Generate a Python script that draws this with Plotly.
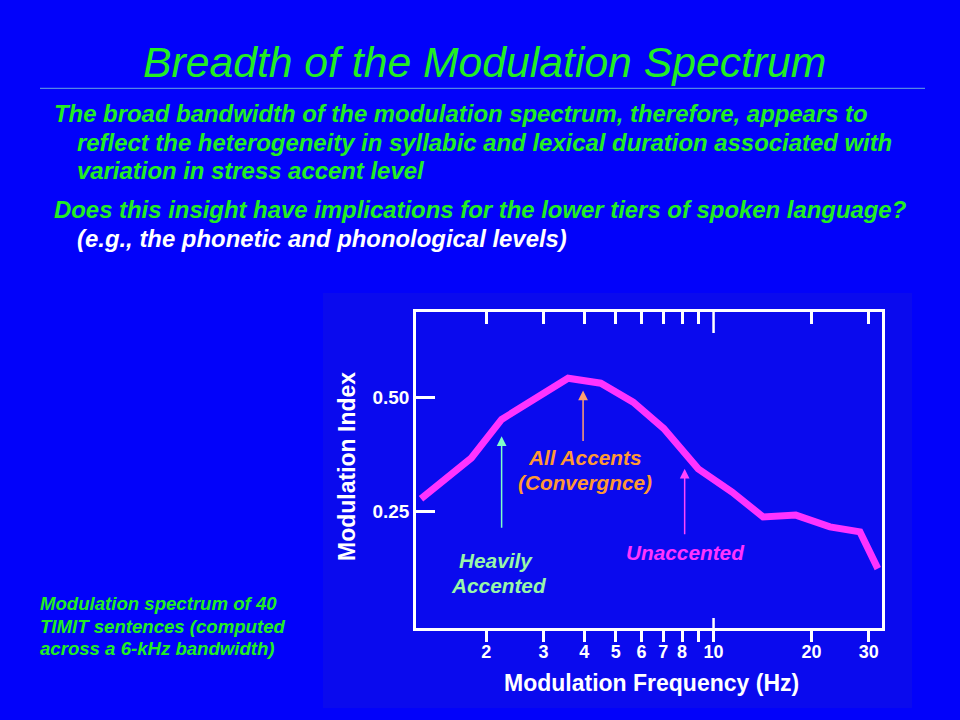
import numpy as np
import plotly.graph_objects as go

# ---------------- data ----------------
freq_hz = [1.26, 1.80, 2.23, 2.88, 3.57, 4.50, 5.66, 7.03, 8.97, 11.4, 14.2, 17.9, 22.8, 28.2, 32.0]
mod_index = [0.277, 0.367, 0.452, 0.501, 0.543, 0.532, 0.490, 0.432, 0.343, 0.292, 0.237, 0.241, 0.215, 0.204, 0.123]

x_tick_vals = [2, 3, 4, 5, 6, 7, 8, 9, 10, 20, 30]
x_tick_text = ["2", "3", "4", "5", "6", "7", "8", "", "10", "20", "30"]
y_tick_vals = [0.25, 0.50]
y_tick_text = ["0.25", "0.50"]

title_text = "Breadth of the Modulation Spectrum"
body_lines = [
    "The broad bandwidth of the modulation spectrum, therefore, appears to",
    "reflect the heterogeneity in syllabic and lexical duration associated with",
    "variation in stress accent level",
    "Does this insight have implications for the lower tiers of spoken language?",
    "(e.g., the phonetic and phonological levels)",
]
foot_lines = [
    "Modulation spectrum of 40",
    "TIMIT sentences (computed",
    "across a 6-kHz bandwidth)",
]

# label positions (data coords: Hz, index)
arrow_heavy = dict(f=2.23, y=0.415, tail=93)
arrow_all = dict(f=3.97, y=0.516, tail=52)
arrow_unacc = dict(f=8.15, y=0.343, tail=67)

# ---------------- layout geometry ----------------
W, H = 960, 720
L, R, T, B = 416, 882, 312, 628
XR = [0.085, 1.518]
YR = [-0.008, 0.689]

def px(xp):
    return (xp - L) / (R - L)

def py(yp):
    return (B - yp) / (B - T)

def lx(f):
    return (np.log10(f) - XR[0]) / (XR[1] - XR[0])

SLIDE = "#0202fa"
PANEL = "#0a0aee"
GREEN = "#22ee22"
WHITE = "#ffffff"
FONT = "Liberation Sans"

fig = go.Figure()
fig.add_trace(go.Scatter(
    x=freq_hz, y=mod_index, mode="lines",
    line=dict(color="#ff33ff", width=7),
    hoverinfo="skip", showlegend=False, cliponaxis=False,
))
# invisible trace to activate top axis
fig.add_trace(go.Scatter(
    x=freq_hz, y=mod_index, mode="lines", xaxis="x2",
    line=dict(color="rgba(0,0,0,0)", width=0),
    hoverinfo="skip", showlegend=False,
))

ann = []
# title
ann.append(dict(text=title_text, x=px(484), y=py(62), xref="paper", yref="paper",
                xanchor="center", yanchor="middle", showarrow=False,
                font=dict(family=FONT, size=42.7, color=GREEN, style="italic")))
body_pos = [(52, 113), (75, 142), (75, 170), (52, 209), (75, 238)]
for i, (t, (bx, by)) in enumerate(zip(body_lines, body_pos)):
    ann.append(dict(text=t, x=px(bx), y=py(by), xref="paper", yref="paper",
                    xanchor="left", yanchor="middle", showarrow=False,
                    font=dict(family=FONT, size=23.9, color=WHITE if i == 4 else GREEN,
                              weight="bold", style="italic")))
for t, fy in zip(foot_lines, [603, 626, 648]):
    ann.append(dict(text=t, x=px(38), y=py(fy), xref="paper", yref="paper",
                    xanchor="left", yanchor="middle", showarrow=False,
                    font=dict(family=FONT, size=18.6, color=GREEN,
                              weight="bold", style="italic")))

# axis titles
ann.append(dict(text="Modulation Frequency (Hz)", x=px(651), y=py(683), xref="paper", yref="paper",
                xanchor="center", yanchor="middle", showarrow=False,
                font=dict(family=FONT, size=23, color=WHITE, weight="bold")))
ann.append(dict(text="Modulation Index", x=px(347), y=py(467), xref="paper", yref="paper",
                xanchor="center", yanchor="middle", showarrow=False, textangle=-90,
                font=dict(family=FONT, size=23, color=WHITE, weight="bold")))

# chart labels
def lab(t, cx, cy, col):
    ann.append(dict(text=t, x=px(cx), y=py(cy), xref="paper", yref="paper",
                    xanchor="center", yanchor="middle", showarrow=False,
                    font=dict(family=FONT, size=20.8, color=col, weight="bold", style="italic")))

lab("All Accents", 585, 457, "#ff9933")
lab("(Convergnce)", 585, 482, "#ff9933")
lab("Unaccented", 685, 552, "#ff33ff")
lab("Heavily", 496, 560, "#99f7a8")
lab("Accented", 499, 585, "#99f7a8")

# arrows
for a, col in [(arrow_heavy, "#80ffc8"), (arrow_all, "#ffa070"), (arrow_unacc, "#ff44ff")]:
    ann.append(dict(text="", x=np.log10(a["f"]), y=a["y"], xref="x", yref="y",
                    showarrow=True, ax=0, ay=a["tail"], arrowhead=2, arrowsize=1.3,
                    arrowwidth=1.5, arrowcolor=col, standoff=0))

shapes = [
    dict(type="rect", xref="paper", yref="paper", x0=px(323), x1=px(912), y0=py(293), y1=py(708),
         fillcolor=PANEL, line=dict(width=0), layer="below"),
    dict(type="line", xref="paper", yref="paper", x0=px(40), x1=px(925), y0=py(88.3), y1=py(88.3),
         line=dict(color="#6aa8e0", width=1)),
    # long decade ticks at 10 Hz
    dict(type="line", xref="paper", yref="paper", x0=lx(10), x1=lx(10), y0=py(638.5), y1=py(618),
         line=dict(color=WHITE, width=2.5)),
    dict(type="line", xref="paper", yref="paper", x0=lx(10), x1=lx(10), y0=1, y1=py(333),
         line=dict(color=WHITE, width=2.5)),
]

fig.update_layout(
    width=W, height=H,
    margin=dict(l=L, r=W - R, t=T, b=H - B, pad=0),
    paper_bgcolor=SLIDE, plot_bgcolor="rgba(0,0,0,0)",
    showlegend=False,
    xaxis=dict(type="log", range=XR, tickmode="array", tickvals=x_tick_vals, ticktext=x_tick_text,
               ticks="outside", ticklen=11, tickwidth=2.5, tickcolor=WHITE,
               ticklabelstandoff=-5,
               showline=True, linewidth=2.5, linecolor=WHITE, mirror=True,
               showgrid=False, zeroline=False, fixedrange=True,
               tickfont=dict(family=FONT, size=18, color=WHITE, weight="bold")),
    xaxis2=dict(type="log", range=XR, overlaying="x", side="top", anchor="y",
                tickmode="array", tickvals=[2, 3, 4, 5, 6, 7, 8, 9, 20, 30],
                ticks="inside", ticklen=12, tickwidth=2.5, tickcolor=WHITE,
                showticklabels=False, showline=False, showgrid=False, zeroline=False),
    yaxis=dict(range=YR, tickmode="array", tickvals=y_tick_vals, ticktext=y_tick_text,
               ticks="inside", ticklen=19, tickwidth=2.5, tickcolor=WHITE,
               showline=True, linewidth=2.5, linecolor=WHITE, mirror=True,
               showgrid=False, zeroline=False, fixedrange=True,
               tickfont=dict(family=FONT, size=19, color=WHITE, weight="bold")),
    annotations=ann,
    shapes=shapes,
)

fig.write_html("out.html", config={"displayModeBar": False},
               post_script="document.body.style.margin='0';document.body.style.overflow='hidden';")
